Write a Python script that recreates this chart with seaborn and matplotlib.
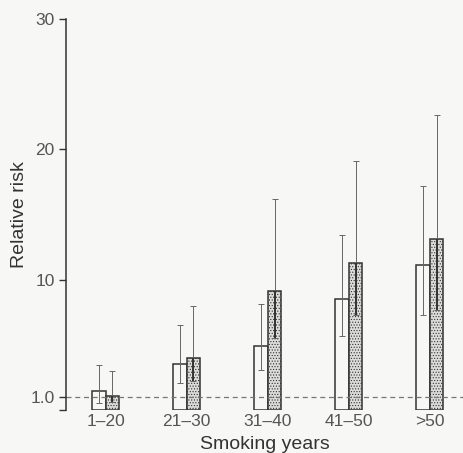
import matplotlib
matplotlib.use("Agg")
import matplotlib.pyplot as plt
import seaborn as sns
import pandas as pd
import numpy as np

categories = ["1–20", "21–30", "31–40", "41–50", ">50"]
groups = ["open", "hatched"]
open_rr = [1.45, 3.55, 4.9, 8.5, 11.1]
open_lo = [0.55, 2.05, 3.1, 5.7, 7.3]
open_hi = [3.45, 6.5, 8.1, 13.4, 17.2]
hatch_rr = [1.1, 4.0, 9.1, 11.3, 13.1]
hatch_lo = [0.6, 2.25, 5.5, 7.3, 7.7]
hatch_hi = [3.0, 8.0, 16.2, 19.1, 22.6]
yticks = [0, 1, 10, 20, 30]
yticklabels = ["", "1.0", "10", "20", "30"]

df = pd.DataFrame({
    "cat": categories * 2,
    "grp": [groups[0]] * 5 + [groups[1]] * 5,
    "rr": open_rr + hatch_rr,
})

sns.set_theme(style="white")
plt.rcParams["font.family"] = ["Liberation Sans", "DejaVu Sans"]
plt.rcParams["hatch.color"] = "#a8a8a6"
plt.rcParams["hatch.linewidth"] = 0.5
bg = "#f7f7f5"
fig = plt.figure(figsize=(4.63, 4.53), dpi=100, facecolor=bg)
ax = fig.add_axes([0.1425, 0.095, 0.8575, 0.863])
ax.set_facecolor(bg)

width = 0.335
sns.barplot(data=df, x="cat", y="rr", hue="grp", hue_order=groups,
            palette=[bg, "#dcdcda"], width=width, dodge=True, gap=0,
            errorbar=None, edgecolor="#333333", linewidth=1.1,
            legend=False, ax=ax, saturation=1)

for i, p in enumerate(ax.patches[:10]):
    if i >= 5:
        p.set_hatch("......")
        if hasattr(p, "set_hatchcolor"):
            p.set_hatchcolor("#a8a8a6")

xs = np.arange(len(categories))
off = width / 4
ax.errorbar(xs - off, open_rr,
            yerr=[np.array(open_rr) - np.array(open_lo), np.array(open_hi) - np.array(open_rr)],
            fmt="none", ecolor="#666666", elinewidth=0.7, capsize=2, capthick=0.7, zorder=5)
ax.errorbar(xs + off, hatch_rr,
            yerr=[np.array(hatch_rr) - np.array(hatch_lo), np.array(hatch_hi) - np.array(hatch_rr)],
            fmt="none", ecolor="#666666", elinewidth=0.7, capsize=2, capthick=0.7, zorder=5)
ax.vlines(xs + off, hatch_lo, hatch_rr, color="#333333", linewidth=1.4, zorder=6)

ax.axhline(1.0, color="#777777", linestyle=(0, (4, 3)), linewidth=0.9, zorder=1, clip_on=False)

ax.set_ylim(0, 30)
ax.set_xlim(-0.49, 4.41)
ax.set_yticks(yticks)
ax.set_yticklabels(yticklabels)
ax.tick_params(axis="y", direction="out", length=5, width=1, color="#333333",
               labelsize=12.5, labelcolor="#555555", pad=3, left=True)
ax.tick_params(axis="x", length=0, labelsize=12.5, labelcolor="#555555", pad=3)
for s in ["top", "right", "bottom"]:
    ax.spines[s].set_visible(False)
ax.spines["left"].set_color("#333333")
ax.spines["left"].set_linewidth(1.1)
ax.set_ylabel("Relative risk", fontsize=14, color="#333333", labelpad=2)
ax.set_xlabel("Smoking years", fontsize=14, color="#333333", labelpad=5)

fig.savefig("out.png", dpi=100, facecolor=bg)
